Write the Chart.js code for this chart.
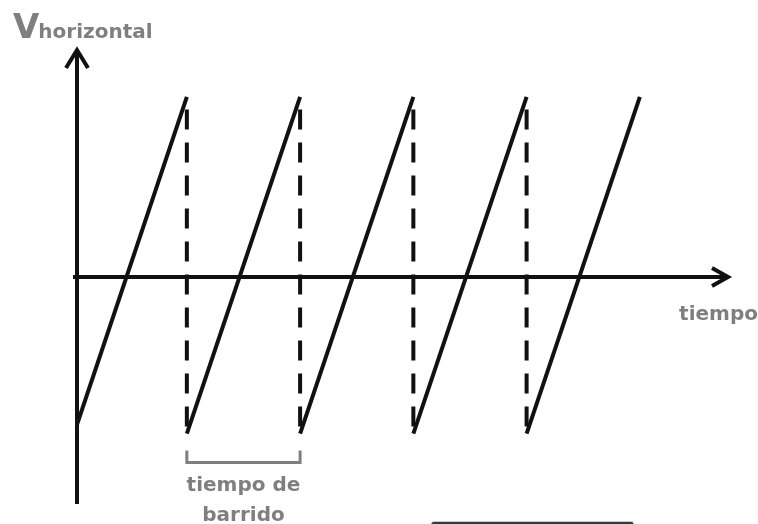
<!DOCTYPE html>
<html>
<head>
<meta charset="utf-8">
<script src="https://cdn.jsdelivr.net/npm/chart.js@4/dist/chart.umd.min.js"></script>
<style>
    body { margin: 0; background: #fff; }
    #wrap { width: 758px; height: 524px; position: relative; }
</style>
</head>
<body>
<div id="wrap"><canvas id="myChart"></canvas></div>
<script>
// diente de sierra: rampas de barrido (tiempo, tension)
const tiempo = [0, 9.7, 9.7, 19.7, 19.7, 29.7, 29.7, 39.7, 39.7, 49.7];
const vHorizontal = [-8.2, 10, -8.7, 10, -8.7, 10, -8.7, 10, -8.7, 10];

// retornos (lineas discontinuas)
const retornoTiempo = [9.7, 19.7, 29.7, 39.7];
const retornoArriba = [9.3, 9.3, 9.3, 9.3];
const retornoAbajo = [-8.7, -8.7, -8.7, -8.7];

// tiempo de barrido marcado con el corchete
const barrido = [9.7, 19.7];

const ejeX = [0, 57.66];
const ejeY = [-12.61, 12.72];

const textos = {
    ejeV: 'V',
    ejeVsub: 'horizontal',
    ejeT: 'tiempo',
    barrido1: 'tiempo de',
    barrido2: 'barrido'
};

window.onload = function() {
    let rampas = tiempo.map((t, i) => ({ x: t, y: vHorizontal[i] }));

    let retornos = [];
    retornoTiempo.forEach((t, i) => {
        retornos.push({ x: t, y: retornoArriba[i] });
        retornos.push({ x: t, y: retornoAbajo[i] });
        retornos.push({ x: t, y: null });
    });

    const gris = '#7f7f7f';

    let dibujo = {
        id: 'dibujo',
        beforeDatasetsDraw(chart) {
            let c = chart.ctx;
            let xs = chart.scales.x;
            let ys = chart.scales.y;
            let x0 = xs.getPixelForValue(0);
            let y0 = ys.getPixelForValue(0);
            let xEnd = xs.getPixelForValue(ejeX[1]);
            let yTop = ys.getPixelForValue(ejeY[1]);
            let yBot = ys.getPixelForValue(ejeY[0]);

            c.save();
            c.strokeStyle = '#111';
            c.lineWidth = 4;
            c.lineCap = 'butt';
            c.lineJoin = 'miter';

            // eje vertical
            c.beginPath();
            c.moveTo(x0, yBot);
            c.lineTo(x0, yTop + 2);
            c.stroke();
            c.beginPath();
            c.moveTo(x0 - 11, yTop + 20);
            c.lineTo(x0, yTop + 2);
            c.lineTo(x0 + 11, yTop + 20);
            c.stroke();

            // eje horizontal
            c.beginPath();
            c.moveTo(x0 - 4, y0);
            c.lineTo(xEnd - 2, y0);
            c.stroke();
            c.beginPath();
            c.moveTo(xEnd - 18, y0 - 9);
            c.lineTo(xEnd - 2, y0);
            c.lineTo(xEnd - 18, y0 + 9);
            c.stroke();
            c.restore();
        },
        afterDraw(chart) {
            let c = chart.ctx;
            let xs = chart.scales.x;
            let ys = chart.scales.y;
            let x0 = xs.getPixelForValue(0);
            let y0 = ys.getPixelForValue(0);
            let xEnd = xs.getPixelForValue(ejeX[1]);
            let yTop = ys.getPixelForValue(ejeY[1]);

            c.save();
            c.fillStyle = gris;
            c.textBaseline = 'alphabetic';

            // titulo eje vertical
            c.textAlign = 'left';
            c.font = 'bold 34px "DejaVu Sans"';
            c.fillText(textos.ejeV, x0 - 64, yTop - 10);
            let wV = c.measureText(textos.ejeV).width;
            c.font = 'bold 20px "DejaVu Sans"';
            c.fillText(textos.ejeVsub, x0 - 64 + wV - 1, yTop - 10);

            // titulo eje horizontal
            c.textAlign = 'right';
            c.fillText(textos.ejeT, xEnd + 28, y0 + 43);

            // corchete del tiempo de barrido
            let b0 = xs.getPixelForValue(barrido[0]);
            let b1 = xs.getPixelForValue(barrido[1]);
            let yb = ys.getPixelForValue(retornoAbajo[0]) + 29;
            c.strokeStyle = gris;
            c.lineWidth = 3;
            c.beginPath();
            c.moveTo(b0, yb - 12);
            c.lineTo(b0, yb);
            c.lineTo(b1, yb);
            c.lineTo(b1, yb - 12);
            c.stroke();

            c.textAlign = 'center';
            let bc = (b0 + b1) / 2;
            c.fillText(textos.barrido1, bc, yb + 28);
            c.fillText(textos.barrido2, bc, yb + 58);

            // borde de un boton cortado abajo
            c.fillStyle = '#c8c8c8';
            c.fillRect(432, 521, 201, 1);
            c.fillStyle = '#2b3b4a';
            c.beginPath();
            c.roundRect(431, 522, 203, 10, 3);
            c.fill();
            c.restore();
        }
    };

    let ctx = document.getElementById('myChart').getContext('2d');
    new Chart(ctx, {
        type: 'line',
        data: {
            datasets: [{
                label: 'barrido',
                data: rampas,
                borderColor: '#111',
                borderWidth: 4,
                pointRadius: 0,
                tension: 0,
                fill: false,
                segment: {
                    borderColor: s => s.p0.parsed.x === s.p1.parsed.x ? 'rgba(0,0,0,0)' : '#111'
                }
            }, {
                label: 'retorno',
                data: retornos,
                borderColor: '#111',
                borderWidth: 4,
                borderDash: [20, 13],
                pointRadius: 0,
                spanGaps: false,
                fill: false
            }]
        },
        options: {
            responsive: true,
            maintainAspectRatio: false,
            animation: false,
            layout: { padding: { left: 77, right: 28, top: 48, bottom: 20 } },
            plugins: { legend: { display: false }, tooltip: { enabled: false } },
            scales: {
                x: { type: 'linear', min: ejeX[0], max: ejeX[1], display: false },
                y: { min: ejeY[0], max: ejeY[1], display: false }
            }
        },
        plugins: [dibujo]
    });
};
</script>
</body>
</html>
